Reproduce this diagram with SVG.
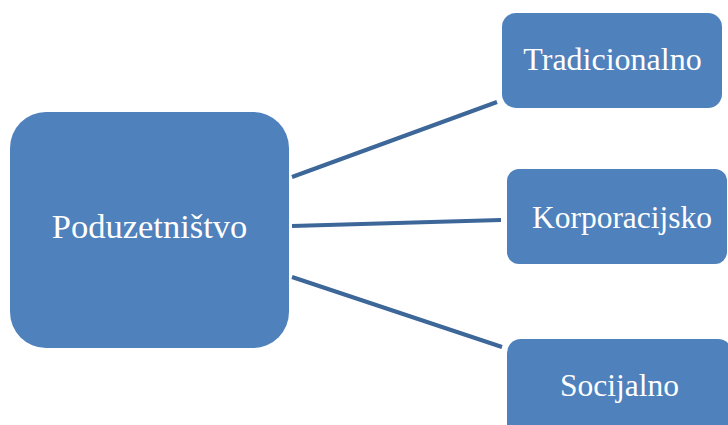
<svg xmlns="http://www.w3.org/2000/svg" width="728" height="425" viewBox="0 0 728 425">
<style>
.box{fill:#4F81BD;}
.lbl{fill:#FFFFFF;text-anchor:middle;font-family:"Liberation Serif","DejaVu Serif",serif;}
.con{stroke:#3D6699;stroke-width:4;fill:none;}
</style>
<rect width="728" height="425" fill="#FFFFFF"/>
<g id="connectors">
<line class="con" x1="292" y1="177" x2="497" y2="102"/>
<line class="con" x1="292" y1="226" x2="501" y2="220"/>
<line class="con" x1="292" y1="277" x2="502" y2="347"/>
</g>
<g id="node-poduzetnistvo">
<rect class="box" x="10" y="112" width="279" height="236" rx="36" ry="36"/>
<text class="lbl" x="149.5" y="238" font-size="34.5">Poduzetništvo</text>
</g>
<g id="node-tradicionalno">
<rect class="box" x="502" y="13" width="220" height="95" rx="14" ry="14"/>
<text class="lbl" x="612.5" y="70" font-size="32">Tradicionalno</text>
</g>
<g id="node-korporacijsko">
<rect class="box" x="507" y="169" width="220" height="95" rx="12" ry="12"/>
<text class="lbl" x="622" y="228" font-size="31.5">Korporacijsko</text>
</g>
<g id="node-socijalno">
<rect class="box" x="507" y="339" width="225" height="100" rx="14" ry="14"/>
<text class="lbl" x="619.5" y="396" font-size="31.5">Socijalno</text>
</g>
</svg>
